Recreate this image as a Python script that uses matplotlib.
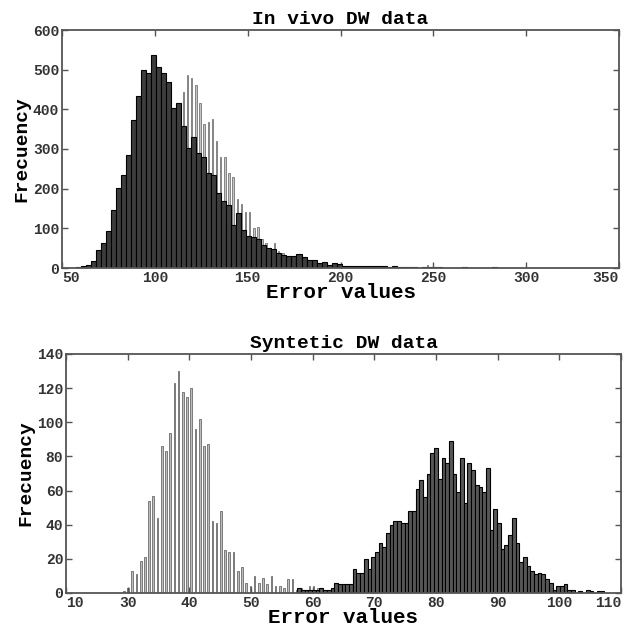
import numpy as np
import matplotlib
matplotlib.use("Agg")
import matplotlib.pyplot as plt

# --- data ---
# top panel: in vivo, dark histogram (bin width 2.7 from 57.5)
vivo_dark_start, vivo_dark_w = 57.5, 2.7
vivo_dark = [2, 5, 8, 17, 45, 62, 94, 146, 201, 234, 284, 373, 434, 499, 491, 537,
             507, 492, 470, 403, 417, 358, 302, 331, 291, 281, 240, 234, 190, 170,
             159, 108, 138, 97, 81, 79, 73, 58, 51, 47, 37, 33, 30, 30, 35, 27,
             20, 20, 13, 16, 7, 13, 10, 6, 4, 4, 4, 4, 4, 6, 6, 6, 3, 6, 3, 3,
             3, 3, 0, 3, 3, 3, 3, 0, 0, 0, 0, 3, 0, 0, 0, 0, 0, 3]
# top panel: in vivo, grey histogram (bin width 2.23 from 58.5)
vivo_grey_start, vivo_grey_w = 58.54, 2.23
vivo_grey = [0, 0, 1, 1, 2, 3, 5, 8, 11, 15, 22, 30, 40, 52, 70, 90, 115, 145, 180,
             220, 260, 300, 340, 380, 400, 444, 486, 480, 461, 417, 363, 369, 375,
             321, 279, 279, 240, 230, 173, 161, 142, 142, 100, 103, 72, 64, 50, 62,
             42, 38, 30, 26, 22, 18, 14, 11, 9, 7, 5, 4, 3, 2, 2, 1, 1, 1, 0, 0,
             0, 0, 0, 0, 0, 0, 0, 0, 0, 0, 0, 0, 0, 0, 0, 0, 7]

# bottom panel: synthetic, grey histogram (bin width 0.684, empty bins from 20)
syn_grey_start, syn_grey_w = 20.14, 0.684
syn_grey = [0] * 13 + [
            1, 3, 13, 11, 19, 21, 54, 57, 44, 86, 83, 94, 123, 130, 118, 115, 120,
            96, 102, 86, 87, 42, 41, 48, 25, 24, 24, 13, 15, 6, 4, 10, 6, 9, 5, 10,
            4, 4, 3, 8, 8, 2, 3, 2, 4, 4, 3, 1]
# bottom panel: synthetic, dark histogram (bin width 0.6 from 57.5)
syn_dark_start, syn_dark_w = 57.5, 0.6
syn_dark = [3, 2, 2, 2, 2, 2, 3, 2, 2, 3, 6, 5, 5, 5, 5, 14, 12, 12, 20, 14, 21, 24,
            29, 27, 35, 40, 42, 42, 41, 41, 48, 48, 61, 66, 56, 70, 82, 85, 67, 79,
            76, 89, 70, 59, 79, 53, 76, 72, 63, 62, 59, 73, 37, 49, 41, 26, 28, 34,
            44, 29, 18, 21, 16, 13, 11, 12, 11, 8, 6, 2, 4, 4, 5, 2, 2, 0, 1, 0, 2,
            1, 0, 1, 1]

top_xticks = [50, 100, 150, 200, 250, 300, 350]
top_yticks = [0, 100, 200, 300, 400, 500, 600]
bot_xticks = [20, 30, 40, 50, 60, 70, 80, 90, 100, 110]
bot_xlabels = ["10", "30", "40", "50", "60", "70", "80", "90", "100", "110"]
bot_yticks = [0, 20, 40, 60, 80, 100, 120, 140]

MONO = ["Liberation Mono", "DejaVu Sans Mono"]
plt.rcParams["font.family"] = MONO
plt.rcParams["font.weight"] = "bold"

W, H = 629, 624
fig = plt.figure(figsize=(W / 100, H / 100), dpi=100)


def px_axes(l, t, r, b):
    return fig.add_axes([l / W, 1 - b / H, (r - l) / W, (b - t) / H])


def style(ax, title):
    for s in ax.spines.values():
        s.set_color("#555555")
        s.set_linewidth(1.3)
    ax.tick_params(direction="in", length=4, width=1, color="#555555",
                   top=True, right=True, labelsize=10.5, labelcolor="#333333", pad=2)
    ax.set_title(title, fontsize=14, fontweight="bold", pad=4)
    ax.set_xlabel("Error values", fontsize=15, fontweight="bold", labelpad=-1)
    ax.set_ylabel("Frecuency", fontsize=14, fontweight="bold", labelpad=2)


# --- top panel ---
ax1 = px_axes(62, 30, 619, 268)
x_g = vivo_grey_start + vivo_grey_w * np.arange(len(vivo_grey)) + vivo_grey_w / 2
ax1.bar(x_g, vivo_grey, width=0.8, color="#c4c4c4", edgecolor="#858585",
        linewidth=0.7, zorder=1)
x_d = vivo_dark_start + vivo_dark_w * np.arange(len(vivo_dark))
ax1.bar(x_d, vivo_dark, width=vivo_dark_w, align="edge", color="#3d3d3d",
        edgecolor="black", linewidth=0.8, zorder=2)
ax1.set_xlim(50, 350)
ax1.set_ylim(0, 600)
ax1.set_xticks(top_xticks)
ax1.set_yticks(top_yticks)
style(ax1, "In vivo DW data")
lbl = ax1.get_xticklabels()
lbl[0].set_horizontalalignment("left")
lbl[-1].set_horizontalalignment("right")

# --- bottom panel ---
ax2 = px_axes(66, 354, 621, 593)
x_g2 = syn_grey_start + syn_grey_w * np.arange(len(syn_grey)) + syn_grey_w / 2
ax2.bar(x_g2, syn_grey, width=0.27, color="#bdbdbd", edgecolor="#7a7a7a",
        linewidth=0.7, zorder=1)
x_d2 = syn_dark_start + syn_dark_w * np.arange(len(syn_dark))
ax2.bar(x_d2, syn_dark, width=syn_dark_w, align="edge", color="#575757",
        edgecolor="black", linewidth=0.8, zorder=2)
ax2.set_xlim(20, 110)
ax2.set_ylim(0, 140)
ax2.set_xticks(bot_xticks)
ax2.set_xticklabels(bot_xlabels)
ax2.set_yticks(bot_yticks)
style(ax2, "Syntetic DW data")
lbl2 = ax2.get_xticklabels()
lbl2[0].set_horizontalalignment("left")
lbl2[-1].set_horizontalalignment("right")

fig.savefig("out.png", dpi=100)
